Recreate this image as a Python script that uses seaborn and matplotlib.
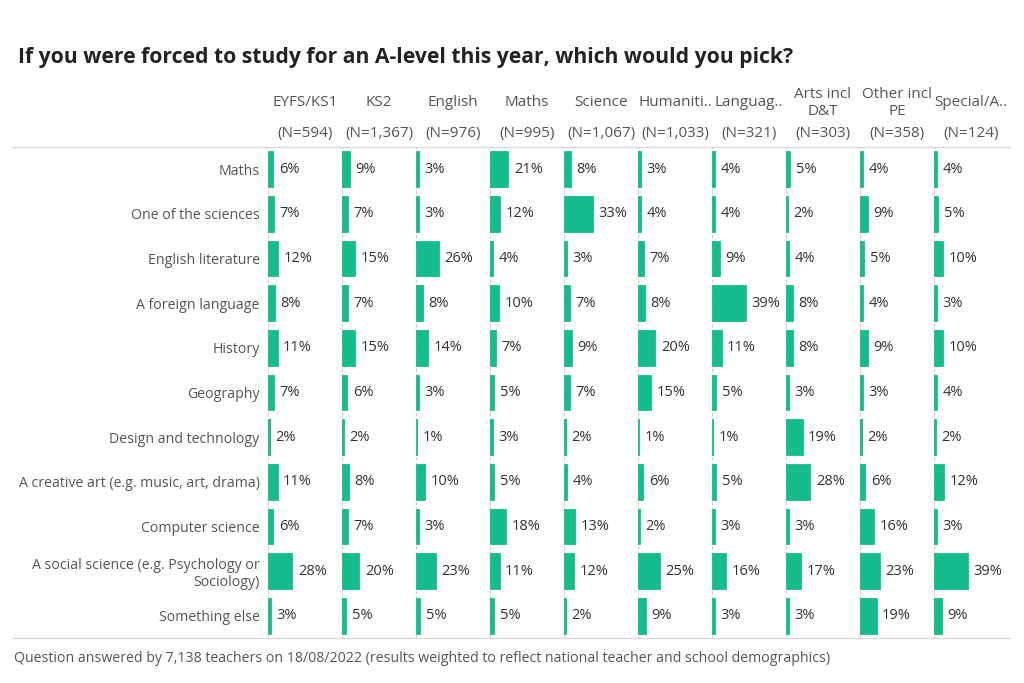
import numpy as np
import pandas as pd
import matplotlib
matplotlib.use("Agg")
import matplotlib.pyplot as plt
from matplotlib.lines import Line2D
import seaborn as sns

# Survey: which A-level would teachers pick
subjects = ["Maths", "One of the sciences", "English literature", "A foreign language",
            "History", "Geography", "Design and technology",
            "A creative art (e.g. music, art, drama)", "Computer science",
            "A social science (e.g. Psychology or\nSociology)", "Something else"]

groups = ["EYFS/KS1", "KS2", "English", "Maths", "Science", "Humaniti..",
          "Languag..", "Arts incl\nD&T", "Other incl\nPE", "Special/A.."]
group_n = ["594", "1,367", "976", "995", "1,067", "1,033", "321", "303", "358", "124"]

eyfs = [6, 7, 12, 8, 11, 7, 2, 11, 6, 28, 3]
ks2 = [9, 7, 15, 7, 15, 6, 2, 8, 7, 20, 5]
english = [3, 3, 26, 8, 14, 3, 1, 10, 3, 23, 5]
maths = [21, 12, 4, 10, 7, 5, 3, 5, 18, 11, 5]
science = [8, 33, 3, 7, 9, 7, 2, 4, 13, 12, 2]
humanities = [3, 4, 7, 8, 20, 15, 1, 6, 2, 25, 9]
languages = [4, 4, 9, 39, 11, 5, 1, 5, 3, 16, 3]
arts = [5, 2, 4, 8, 8, 3, 19, 28, 3, 17, 3]
other = [4, 9, 5, 4, 9, 3, 2, 6, 16, 23, 19]
special = [4, 5, 10, 3, 10, 4, 2, 12, 3, 39, 9]

columns = [eyfs, ks2, english, maths, science, humanities, languages, arts, other, special]

sns.set_style("white")
plt.rcParams["font.family"] = ["Open Sans", "DejaVu Sans"]

teal = "#15BD8D"
dark = "#333333"
grey = "#555555"

fig = plt.figure(figsize=(10.24, 6.83), dpi=100)
W, H = 1024, 683

top_px, bot_px = 147, 638
left_px, col_w = 268, 74

fig.text(18 / W, 1 - 57 / H, "If you were forced to study for an A-level this year, which would you pick?",
         fontsize=15.2, fontweight="bold", color="#222222", va="center", ha="left")

for i, (name, n, vals) in enumerate(zip(groups, group_n, columns)):
    x0 = left_px + i * col_w
    ax = fig.add_axes([x0 / W, 1 - bot_px / H, col_w / W, (bot_px - top_px) / H])
    df = pd.DataFrame({"subject": subjects, "pct": vals})
    sns.barplot(data=df, x="pct", y="subject", orient="h", color=teal,
                edgecolor=teal, linewidth=0.6, width=0.8, saturation=1, ax=ax)
    ax.set_xlim(0, 85)
    ax.set_ylim(len(subjects) - 0.5, -0.5)
    ax.axvline(0, color="#cccccc", lw=0.8, ls=(0, (3, 2)), zorder=0)
    for s in ax.spines.values():
        s.set_visible(False)
    ax.set_xticks([])
    ax.set_xlabel("")
    ax.set_ylabel("")
    if i == 0:
        ax.tick_params(axis="y", length=0, pad=6, labelsize=10.2, labelcolor=grey)
    else:
        ax.set_yticks([])
    for j, v in enumerate(vals):
        ax.annotate(f"{v}%", (v, j), xytext=(4, 0), textcoords="offset points",
                    va="center", ha="left", fontsize=10.5, color=dark)
    cx = (x0 + col_w / 2) / W
    fig.text(cx, 1 - 103 / H, name, ha="center", va="center", fontsize=11,
             color=grey, linespacing=1.1)
    fig.text(cx, 1 - 133 / H, f"(N={n})", ha="center", va="center", fontsize=11, color=grey)

# separator lines
fig.add_artist(Line2D([12 / W, 1010 / W], [1 - top_px / H] * 2, color="#d9d9d9", lw=1))
fig.add_artist(Line2D([12 / W, 1010 / W], [1 - bot_px / H] * 2, color="#d9d9d9", lw=1))

fig.text(14 / W, 1 - 658 / H,
         "Question answered by 7,138 teachers on 18/08/2022 (results weighted to reflect national teacher and school demographics)",
         fontsize=10.15, color=grey, va="center", ha="left")

fig.savefig("out.png", dpi=100)
